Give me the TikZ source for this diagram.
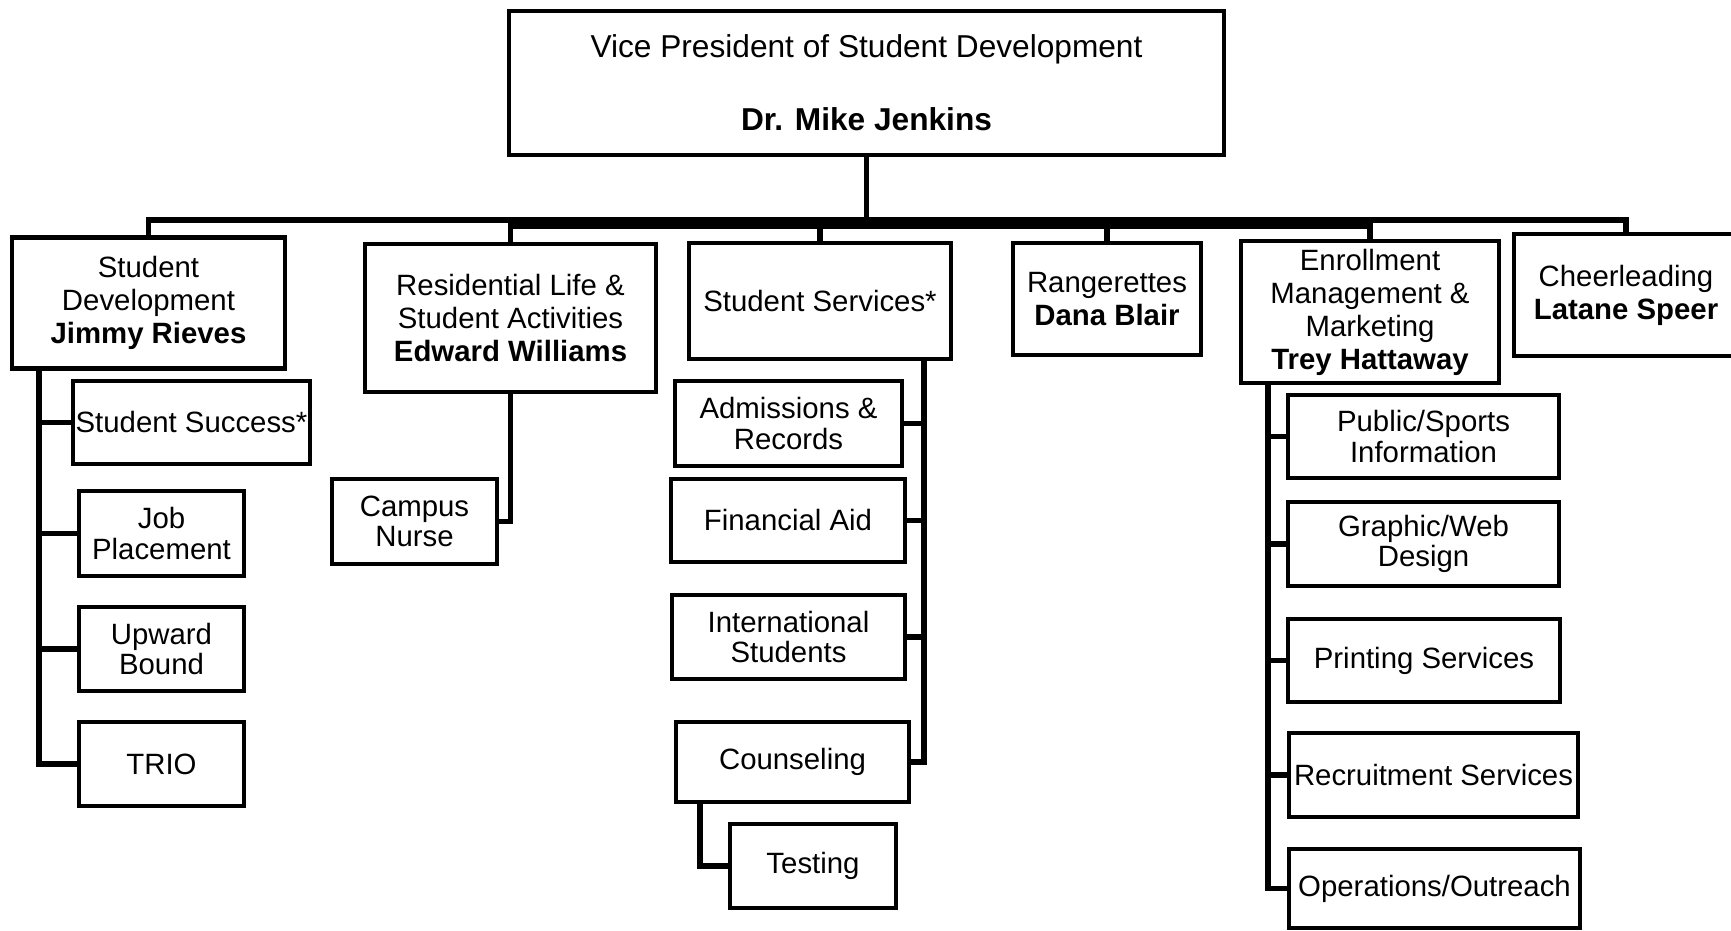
\documentclass[tikz,border=0pt]{standalone}
\usepackage{fontspec}
\setmainfont{Liberation Sans}
\tikzset{
  boite/.style={draw, line width=1.2pt, inner sep=0pt, align=center,
    font=\fontsize{8.35}{9.4}\selectfont},
  sousboite/.style={boite, font=\fontsize{8.35}{8.6}\selectfont},
  taille/.style 2 args={minimum width=#1cm, minimum height=#2cm},
  lien/.style={line width=1.5pt},
  barre/.style={line width=3pt}
}
\begin{document}
\begin{tikzpicture}[x=0.01cm, y=-0.01cm]
    \useasboundingbox (0,0) rectangle (1731,931);

    % Le vice-president en haut
    \node[boite, taille={7.15}{1.44}, font=\fontsize{9}{10.4}\selectfont] (vp) at (866.5,83)
        {Vice President of Student Development\\[10.4pt]\textbf{Dr. Mike Jenkins}};

    % Les six services sous la barre
    \node[boite, taille={2.73}{1.31}] (sd) at (148.5,303) {Student\\Development\\\textbf{Jimmy Rieves}};
    \node[boite, taille={2.91}{1.48}] (rl) at (510.5,318) {Residential Life \&\\Student Activities\\\textbf{Edward Williams}};
    \node[boite, taille={2.62}{1.16}] (ss) at (820,301) {Student Services*};
    \node[boite, taille={1.88}{1.12}] (rg) at (1107,299) {Rangerettes\\\textbf{Dana Blair}};
    \node[boite, taille={2.58}{1.42}] (em) at (1370,312) {Enrollment\\Management \&\\Marketing\\\textbf{Trey Hattaway}};
    \node[boite, taille={2.24}{1.22}] (ch) at (1626,295) {Cheerleading\\\textbf{Latane Speer}};

    % Barre horizontale
    \coordinate (bus) at (866.5,220);
    \draw[lien] (vp.south) -- (bus);
    \foreach \n in {sd,rl,ss,rg,em,ch}
        \draw[lien] (\n.north) |- (bus);
    \draw[barre] ([yshift=-0.035cm]rl.north |- bus) -- ([yshift=-0.035cm]em.north |- bus);

    % Student Development
    \node[sousboite, taille={2.37}{0.83}] (ssu) at (191.5,422.5) {Student Success*};
    \node[sousboite, taille={1.65}{0.85}] (job) at (161.5,533.5) {Job\\Placement};
    \node[sousboite, taille={1.65}{0.84}] (upw) at (161.5,649) {Upward\\Bound};
    \node[sousboite, taille={1.65}{0.84}] (trio) at (161.5,764) {TRIO};
    \coordinate (sdspine) at (39,368);
    \foreach \n in {ssu,job,upw,trio}
        \draw[lien] (sdspine) |- (\n.west);

    % Residential Life
    \node[sousboite, taille={1.65}{0.85}] (cn) at (414.5,521.5) {Campus\\Nurse};
    \draw[lien] (rl.south) |- (cn.east);

    % Student Services
    \node[sousboite, taille={2.27}{0.85}] (adm) at (788.5,423.5) {Admissions \&\\Records};
    \node[sousboite, taille={2.34}{0.83}] (fin) at (788,520.5) {Financial Aid};
    \node[sousboite, taille={2.33}{0.84}] (intl) at (788.5,637) {International\\Students};
    \node[sousboite, taille={2.33}{0.80}] (cou) at (792.5,762) {Counseling};
    \node[sousboite, taille={1.66}{0.84}] (tst) at (813,866) {Testing};
    \coordinate (ssspine) at (924,359);
    \foreach \n in {adm,fin,intl,cou}
        \draw[lien] (ssspine) |- (\n.east);
    \coordinate (couspine) at (700,802);
    \draw[lien] (couspine) |- (tst.west);

    % Enrollment Management
    \node[sousboite, taille={2.71}{0.83}] (pub) at (1423.5,436.5) {Public/Sports\\Information};
    \node[sousboite, taille={2.71}{0.84}] (gra) at (1423.5,544) {Graphic/Web\\Design};
    \node[sousboite, taille={2.72}{0.83}] (prt) at (1424,660.5) {Printing Services};
    \node[sousboite, taille={2.89}{0.84}] (rec) at (1433.5,775) {Recruitment Services};
    \node[sousboite, taille={2.91}{0.79}] (ops) at (1434.5,888.5) {Operations/Outreach};
    \coordinate (emspine) at (1268,383);
    \foreach \n in {pub,gra,prt,rec,ops}
        \draw[lien] (emspine) |- (\n.west);
\end{tikzpicture}
\end{document}
